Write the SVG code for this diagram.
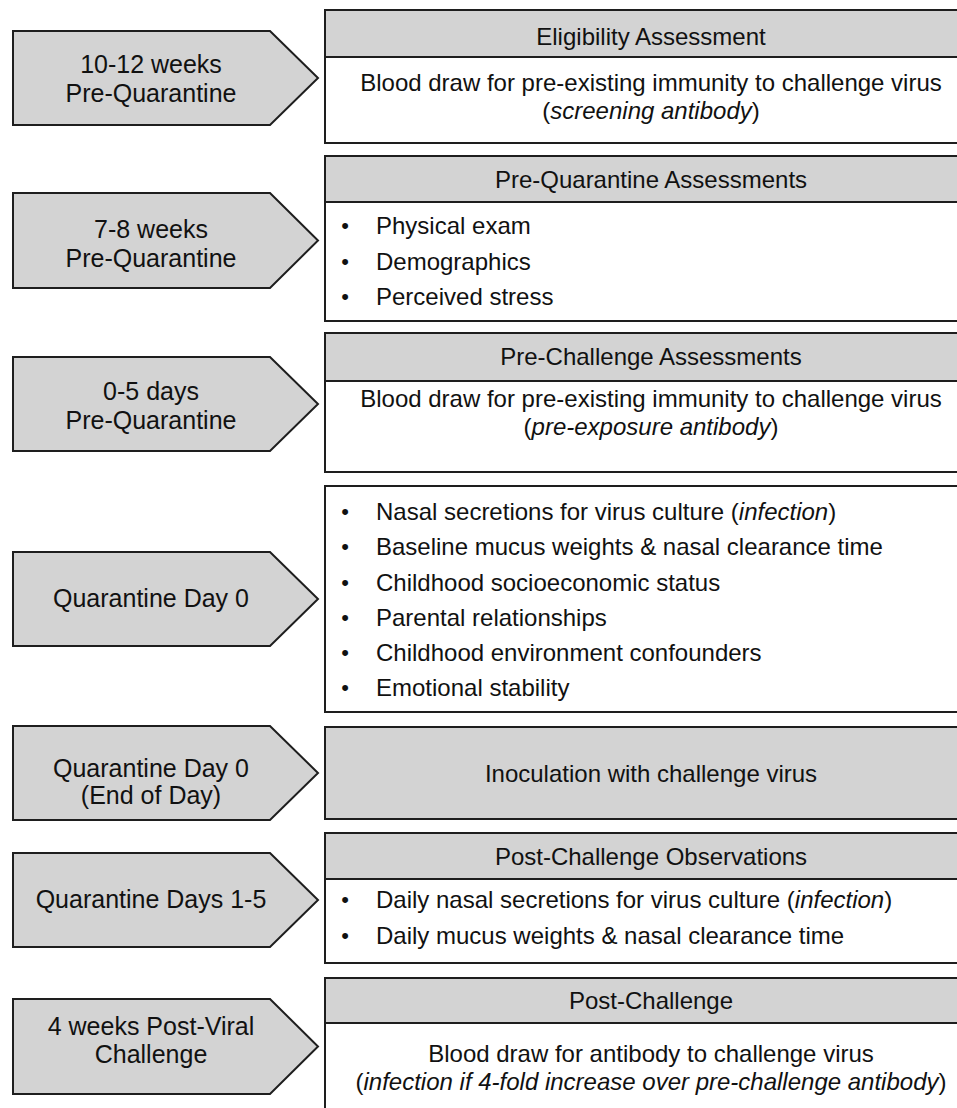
<svg xmlns="http://www.w3.org/2000/svg" width="957" height="1108" viewBox="0 0 957 1108">
<style>
.arrow{fill:#d3d3d3;stroke:#1e1e1e;stroke-width:2;stroke-linejoin:miter}
.hdr{fill:#d3d3d3;stroke:#1e1e1e;stroke-width:2}
.body{fill:#ffffff;stroke:#1e1e1e;stroke-width:2}
.gbody{fill:#d3d3d3;stroke:#1e1e1e;stroke-width:2}
text{font-family:"Liberation Sans",Arial,sans-serif;fill:#111}
.at{font-size:25px;text-anchor:middle}
.bt{font-size:24px;text-anchor:middle}
.li{font-size:24px}
.bu{font-size:22px;text-anchor:middle}
.i{font-style:italic}
</style>
<rect width="957" height="1108" fill="#ffffff"/>
<g id="connectors"/>

<g id="arrow1"><polygon class="arrow" points="13,31 270,31 318,78 270,125 13,125"/>
<text class="at" x="151" y="73">10-12 weeks</text><text class="at" x="151" y="102">Pre-Quarantine</text></g>
<g id="arrow2"><polygon class="arrow" points="13,193 270,193 318,240.5 270,288 13,288"/>
<text class="at" x="151" y="238">7-8 weeks</text><text class="at" x="151" y="267">Pre-Quarantine</text></g>
<g id="arrow3"><polygon class="arrow" points="13,357 270,357 318,404 270,451 13,451"/>
<text class="at" x="151" y="400">0-5 days</text><text class="at" x="151" y="429">Pre-Quarantine</text></g>
<g id="arrow4"><polygon class="arrow" points="13,552 270,552 318,599 270,646 13,646"/>
<text class="at" x="151" y="607">Quarantine Day 0</text></g>
<g id="arrow5"><polygon class="arrow" points="13,726 270,726 318,773 270,820 13,820"/>
<text class="at" x="151" y="777">Quarantine Day 0</text><text class="at" x="151" y="804">(End of Day)</text></g>
<g id="arrow6"><polygon class="arrow" points="13,853 270,853 318,900 270,947 13,947"/>
<text class="at" x="151" y="908">Quarantine Days 1-5</text></g>
<g id="arrow7"><polygon class="arrow" points="13,999 270,999 318,1046.5 270,1094 13,1094"/>
<text class="at" x="151" y="1035">4 weeks Post-Viral</text><text class="at" x="151" y="1063">Challenge</text></g>

<g id="box1"><rect class="body" x="325" y="57" width="670" height="86"/><rect class="hdr" x="325" y="10" width="670" height="47"/>
<text class="bt" x="651" y="45">Eligibility Assessment</text>
<text class="bt" x="651" y="91">Blood draw for pre-existing immunity to challenge virus</text>
<text class="bt" x="651" y="119">(<tspan class="i">screening antibody</tspan>)</text></g>

<g id="box2"><rect class="body" x="325" y="202" width="670" height="119"/><rect class="hdr" x="325" y="156" width="670" height="46"/>
<text class="bt" x="651" y="188">Pre-Quarantine Assessments</text>
<text class="bu" x="345" y="233">•</text><text class="li" x="376" y="234">Physical exam</text>
<text class="bu" x="345" y="269">•</text><text class="li" x="376" y="270">Demographics</text>
<text class="bu" x="345" y="304">•</text><text class="li" x="376" y="305">Perceived stress</text></g>

<g id="box3"><rect class="body" x="325" y="381" width="670" height="91"/><rect class="hdr" x="325" y="333" width="670" height="48"/>
<text class="bt" x="651" y="365">Pre-Challenge Assessments</text>
<text class="bt" x="651" y="407">Blood draw for pre-existing immunity to challenge virus</text>
<text class="bt" x="651" y="435">(<tspan class="i">pre-exposure antibody</tspan>)</text></g>

<g id="box4"><rect class="body" x="325" y="486" width="670" height="226"/>
<text class="bu" x="345" y="519">•</text><text class="li" x="376" y="520">Nasal secretions for virus culture (<tspan class="i">infection</tspan>)</text>
<text class="bu" x="345" y="554">•</text><text class="li" x="376" y="555">Baseline mucus weights &amp; nasal clearance time</text>
<text class="bu" x="345" y="590">•</text><text class="li" x="376" y="591">Childhood socioeconomic status</text>
<text class="bu" x="345" y="625">•</text><text class="li" x="376" y="626">Parental relationships</text>
<text class="bu" x="345" y="660">•</text><text class="li" x="376" y="661">Childhood environment confounders</text>
<text class="bu" x="345" y="695">•</text><text class="li" x="376" y="696">Emotional stability</text></g>

<g id="box5"><rect class="gbody" x="325" y="727" width="670" height="92"/>
<text class="bt" x="651" y="782">Inoculation with challenge virus</text></g>

<g id="box6"><rect class="body" x="325" y="879" width="670" height="84"/><rect class="hdr" x="325" y="833" width="670" height="46"/>
<text class="bt" x="651" y="865">Post-Challenge Observations</text>
<text class="bu" x="345" y="907">•</text><text class="li" x="376" y="908">Daily nasal secretions for virus culture (<tspan class="i">infection</tspan>)</text>
<text class="bu" x="345" y="943">•</text><text class="li" x="376" y="944">Daily mucus weights &amp; nasal clearance time</text></g>

<g id="box7"><rect class="body" x="325" y="1023" width="670" height="100"/><rect class="hdr" x="325" y="978" width="670" height="45"/>
<text class="bt" x="651" y="1009">Post-Challenge</text>
<text class="bt" x="651" y="1062">Blood draw for antibody to challenge virus</text>
<text class="bt" x="651" y="1090">(<tspan class="i">infection if 4-fold increase over pre-challenge antibody</tspan>)</text></g>
</svg>
